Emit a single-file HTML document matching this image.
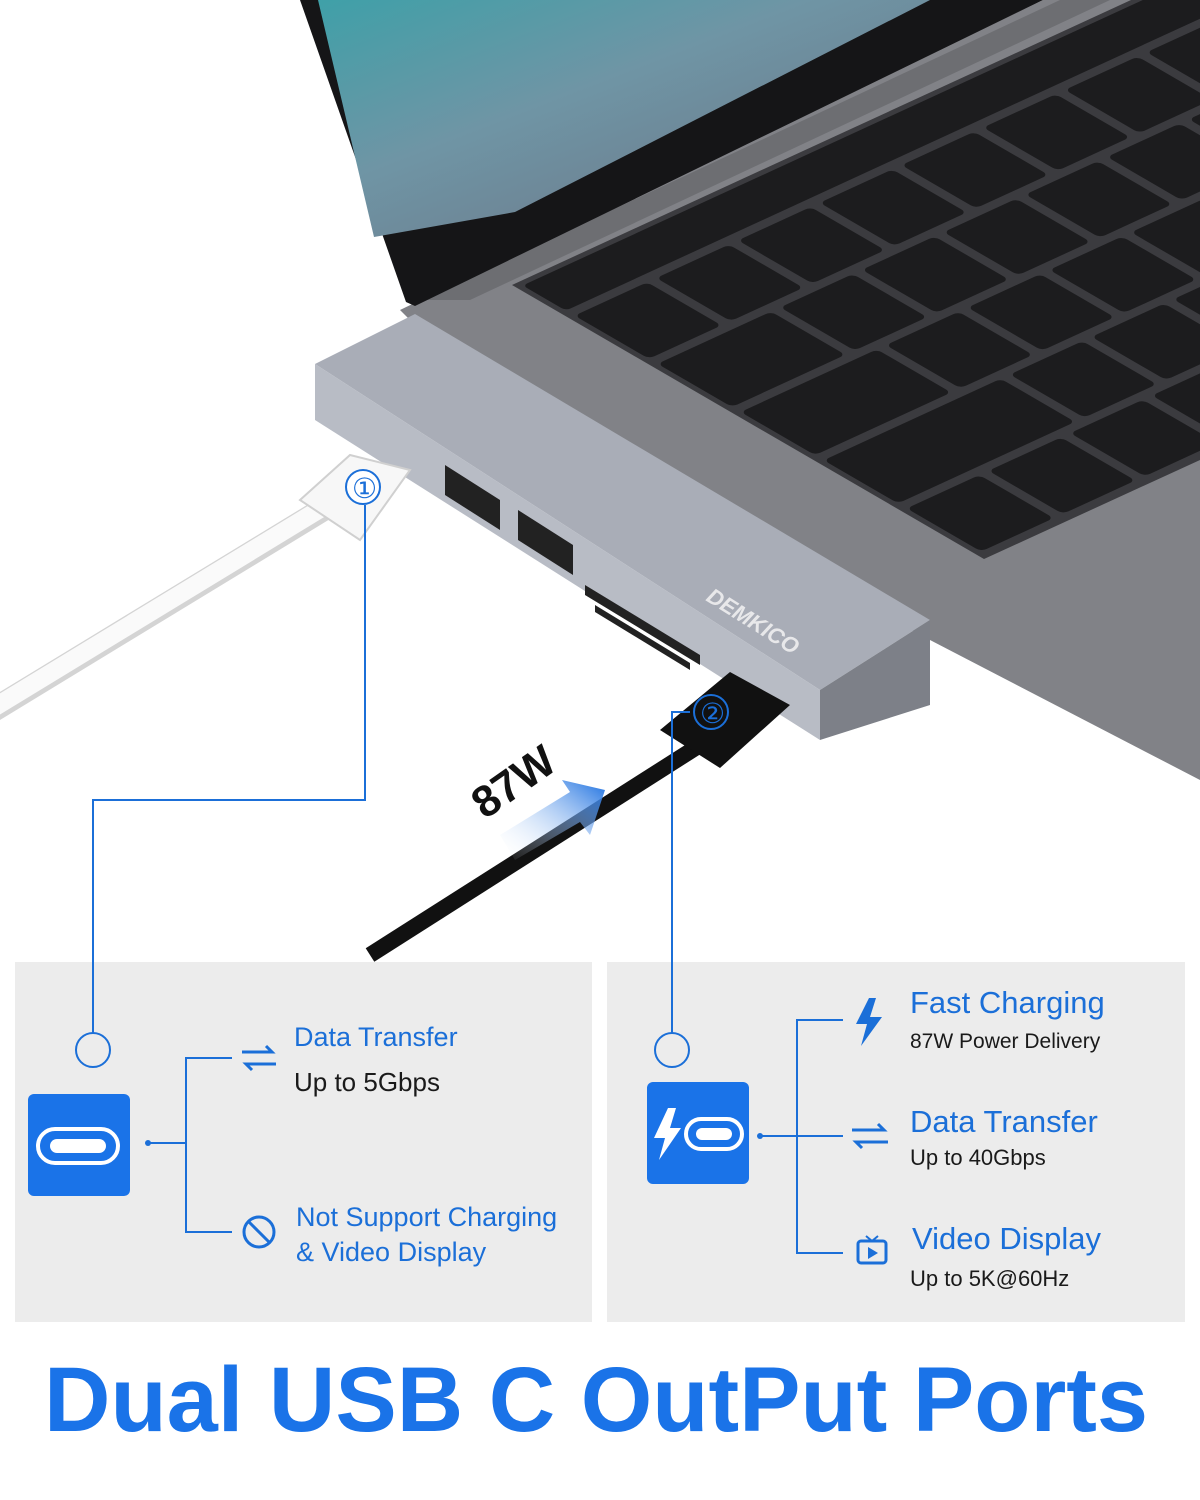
<!DOCTYPE html>
<html><head><meta charset="utf-8"><style>
body{margin:0;width:1200px;height:1500px;background:#fff;position:relative;overflow:hidden;font-family:"Liberation Sans",sans-serif}
.t{position:absolute;white-space:nowrap}
.b{color:#1b6fd8}
.d{color:#1a1a1a}
</style></head><body>
<svg width="1200" height="1500" style="position:absolute;left:0;top:0">
<defs>
<linearGradient id="scr" x1="0" y1="0" x2="1" y2="1"><stop offset="0" stop-color="#3fa0a8"/><stop offset=".4" stop-color="#6f95a5"/><stop offset="1" stop-color="#6c6f80"/></linearGradient>
<linearGradient id="ar" x1="0" y1="1" x2="1" y2="0"><stop offset="0" stop-color="#fff" stop-opacity="0"/><stop offset="1" stop-color="#1a6fe0"/></linearGradient>
</defs>
<!-- deck -->
<polygon points="400,310 1043,0 1200,0 1200,780 930,640 500,410" fill="#818287"/>
<polygon points="420,300 1060,0 1110,0 470,300" fill="#6d6e72"/>
<!-- lid -->
<polygon points="300,0 1043,0 415,306 406,302" fill="#151517"/>
<polygon points="318,0 930,0 515,212 374,237" fill="url(#scr)"/>
<!-- keyboard well -->
<polygon points="512,285 1131,0 1200,0 1200,460 984,559" fill="#3b3b3f"/>
<g transform="matrix(0.908,-0.418,0.865,0.502,512,285)" fill="#1c1c1e">
<rect x="6" y="6" width="900" height="50" rx="5"/>
<rect x="6" y="66" width="80" height="86" rx="6"/><rect x="96" y="66" width="80" height="86" rx="6"/><rect x="186" y="66" width="80" height="86" rx="6"/><rect x="276" y="66" width="80" height="86" rx="6"/><rect x="366" y="66" width="80" height="86" rx="6"/><rect x="456" y="66" width="80" height="86" rx="6"/><rect x="546" y="66" width="80" height="86" rx="6"/><rect x="636" y="66" width="80" height="86" rx="6"/><rect x="726" y="66" width="80" height="86" rx="6"/><rect x="816" y="66" width="80" height="86" rx="6"/>
<rect x="6" y="162" width="125" height="86" rx="6"/><rect x="141" y="162" width="80" height="86" rx="6"/><rect x="231" y="162" width="80" height="86" rx="6"/><rect x="321" y="162" width="80" height="86" rx="6"/><rect x="411" y="162" width="80" height="86" rx="6"/><rect x="501" y="162" width="80" height="86" rx="6"/><rect x="591" y="162" width="80" height="86" rx="6"/><rect x="681" y="162" width="80" height="86" rx="6"/><rect x="771" y="162" width="80" height="86" rx="6"/>
<rect x="6" y="258" width="150" height="86" rx="6"/><rect x="166" y="258" width="80" height="86" rx="6"/><rect x="256" y="258" width="80" height="86" rx="6"/><rect x="346" y="258" width="80" height="86" rx="6"/><rect x="436" y="258" width="80" height="86" rx="6"/><rect x="526" y="258" width="80" height="86" rx="6"/><rect x="616" y="258" width="80" height="86" rx="6"/><rect x="706" y="258" width="80" height="86" rx="6"/>
<rect x="6" y="354" width="195" height="86" rx="6"/><rect x="211" y="354" width="80" height="86" rx="6"/><rect x="301" y="354" width="80" height="86" rx="6"/><rect x="391" y="354" width="80" height="86" rx="6"/><rect x="481" y="354" width="80" height="86" rx="6"/><rect x="571" y="354" width="80" height="86" rx="6"/><rect x="661" y="354" width="80" height="86" rx="6"/>
<rect x="6" y="450" width="80" height="86" rx="6"/><rect x="96" y="450" width="80" height="86" rx="6"/><rect x="186" y="450" width="80" height="86" rx="6"/><rect x="276" y="450" width="80" height="86" rx="6"/><rect x="366" y="450" width="80" height="86" rx="6"/>
</g>
<!-- hub -->
<polygon points="415,314 315,364 820,690 930,620" fill="#a9adb7"/>
<polygon points="315,364 820,690 820,740 315,420" fill="#b8bcc5"/>
<polygon points="820,690 930,620 930,705 820,740" fill="#7d8088"/>
<g fill="#222">
<polygon points="445,465 500,500 500,530 445,495"/>
<polygon points="518,510 573,545 573,575 518,540"/>
<polygon points="585,585 700,655 700,665 585,595"/>
<polygon points="595,605 690,663 690,670 595,612"/>
</g>
<text x="705" y="600" transform="rotate(32 705 600)" font-family="Liberation Sans" font-weight="bold" font-style="italic" font-size="22" fill="#e8e8ea">DEMKICO</text>
<!-- white cable -->
<line x1="-10" y1="712" x2="330" y2="505" stroke="#d4d4d4" stroke-width="24" stroke-linecap="round"/>
<line x1="-10" y1="710" x2="330" y2="503" stroke="#fafafa" stroke-width="18" stroke-linecap="round"/>
<polygon points="300,500 350,455 410,470 360,540" fill="#f7f7f7" stroke="#d0d0d0" stroke-width="2"/>
<!-- black cable -->
<line x1="370" y1="955" x2="700" y2="745" stroke="#111" stroke-width="16"/>
<polygon points="660,730 730,672 790,705 720,768" fill="#111"/>
<polygon points="500,835 570,792 562,780 605,790 590,835 580,822 515,860" fill="url(#ar)"/>
<text x="485" y="820" transform="rotate(-35 485 820)" font-family="Liberation Sans" font-weight="bold" font-size="44" fill="#111">87W</text>
<rect x="15" y="962" width="577" height="360" fill="#ececec"/>
<rect x="607" y="962" width="578" height="360" fill="#ececec"/>
<g fill="none" stroke="#1b6fd8" stroke-width="2">
<polyline points="365,505 365,800 93,800 93,1033"/>
<polyline points="690,712 672,712 672,1033"/>
<circle cx="363" cy="487" r="17" fill="#fff"/>
<circle cx="93" cy="1050" r="17"/>
<circle cx="711" cy="712" r="17" fill="#111"/>
<circle cx="672" cy="1050" r="17"/>
<polyline points="150,1143 186,1143"/>
<polyline points="232,1058 186,1058 186,1232 232,1232"/>
<polyline points="760,1136 843,1136"/>
<polyline points="843,1020 797,1020 797,1253 843,1253"/>
<circle cx="259" cy="1232" r="15" stroke-width="3"/><line x1="248" y1="1221" x2="270" y2="1243" stroke-width="3"/>
<path d="M242 1052 h30 l-6 -6 M276 1064 h-30 l6 6" stroke-width="3"/>
<path d="M852 1130 h32 l-6 -6 M888 1142 h-32 l6 6" stroke-width="3"/>
<rect x="858" y="1241" width="28" height="22" rx="3" stroke-width="3"/><path d="M866 1236 l6 5 l6 -5" stroke-width="2"/>
</g>
<polygon points="869,998 856,1024 867,1024 861,1046 882,1017 870,1017 876,998" fill="#1b6fd8"/>
<polygon points="868,1247 868,1259 878,1253" fill="#1b6fd8"/>
<circle cx="148" cy="1143" r="3" fill="#1b6fd8"/><circle cx="760" cy="1136" r="3" fill="#1b6fd8"/>
<rect x="28" y="1094" width="102" height="102" rx="6" fill="#1a73e8"/>
<rect x="38" y="1129" width="80" height="34" rx="17" fill="none" stroke="#fff" stroke-width="4"/>
<rect x="50" y="1139" width="56" height="14" rx="7" fill="#fff"/>
<rect x="647" y="1082" width="102" height="102" rx="6" fill="#1a73e8"/>
<rect x="686" y="1119" width="56" height="30" rx="15" fill="none" stroke="#fff" stroke-width="4"/>
<rect x="696" y="1128" width="36" height="12" rx="6" fill="#fff"/>
<polygon points="668,1108 654,1138 665,1138 659,1160 681,1128 670,1128 676,1108" fill="#fff"/>
</svg>
<div class="t" style="left:352px;top:472px;font-size:28px;color:#1b6fd8">①</div>
<div class="t" style="left:700px;top:697px;font-size:28px;color:#1b6fd8">②</div>
<div class="t b" style="left:294px;top:1022px;font-size:27px">Data Transfer</div>
<div class="t d" style="left:294px;top:1067px;font-size:26px">Up to 5Gbps</div>
<div class="t b" style="left:296px;top:1202px;font-size:27px">Not Support Charging</div>
<div class="t b" style="left:296px;top:1237px;font-size:27px">&amp; Video Display</div>
<div class="t b" style="left:910px;top:985px;font-size:31px">Fast Charging</div>
<div class="t d" style="left:910px;top:1030px;font-size:21px">87W Power Delivery</div>
<div class="t b" style="left:910px;top:1104px;font-size:31px">Data Transfer</div>
<div class="t d" style="left:910px;top:1145px;font-size:22px">Up to 40Gbps</div>
<div class="t b" style="left:912px;top:1221px;font-size:31px">Video Display</div>
<div class="t d" style="left:910px;top:1266px;font-size:22px">Up to 5K@60Hz</div>
<div class="t" style="left:44px;top:1348px;font-size:92px;font-weight:bold;color:#1a73e8">Dual USB C OutPut Ports</div>
</body></html>
